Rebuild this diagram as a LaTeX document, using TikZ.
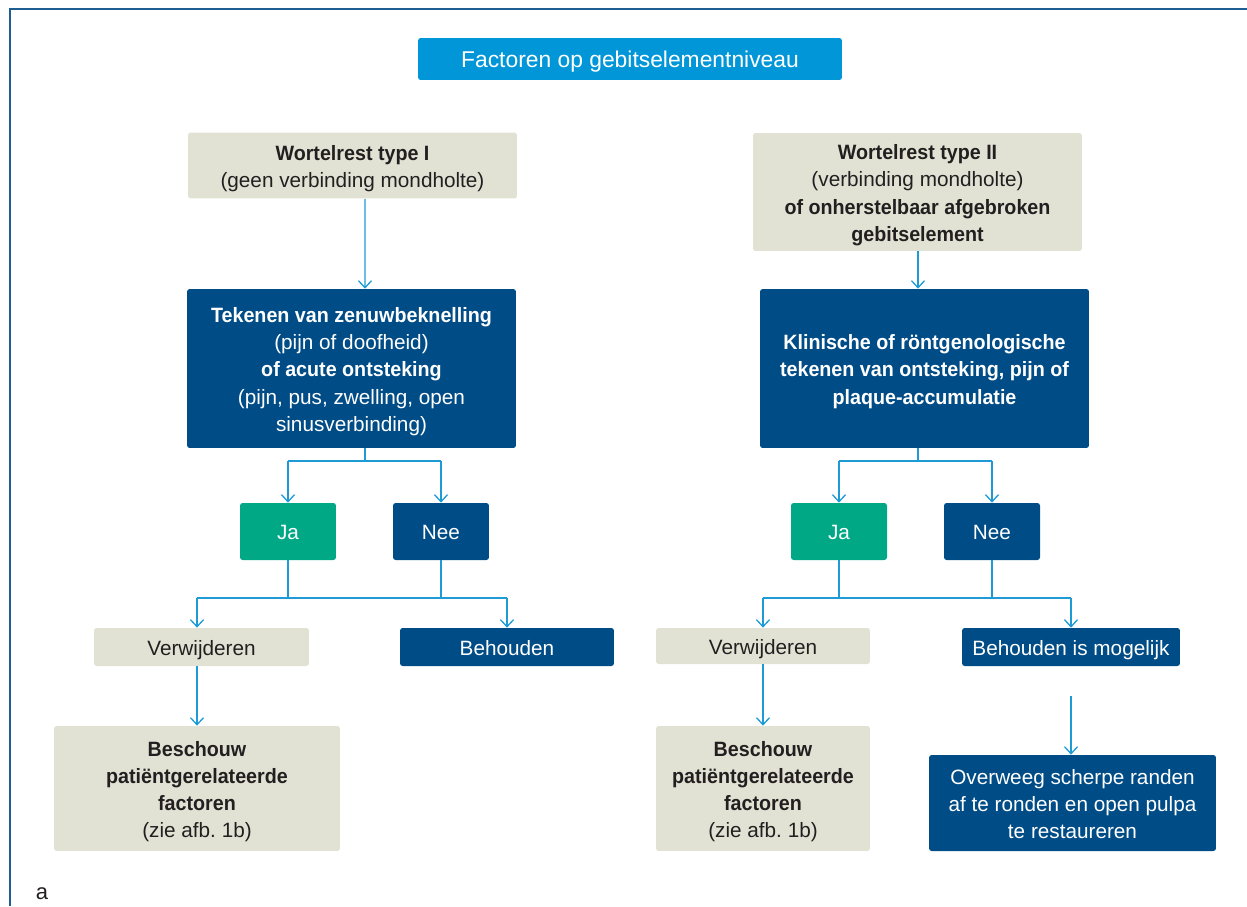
\documentclass[tikz,border=0pt]{standalone}
\usepackage{fontspec}
\setmainfont{Liberation Sans}[BoldFeatures={FakeStretch=0.95}]
\frenchspacing
\usetikzlibrary{arrows.meta}
\definecolor{headblue}{HTML}{0096D8}
\definecolor{darkblue}{HTML}{004C86}
\definecolor{okgreen}{HTML}{00A886}
\definecolor{sand}{HTML}{E2E2D4}
\definecolor{linkblue}{HTML}{1E9BD7}
\definecolor{framec}{HTML}{1F5E93}
\definecolor{ink}{HTML}{231F20}

\begin{document}
\begin{tikzpicture}[x=0.02cm,y=-0.02cm,
  box/.style={rounded corners=1.5pt,inner sep=0pt,align=flush center,
    font=\fontsize{11.8}{15.5}\selectfont,
    execute at begin node={\rule{0pt}{12.6pt}},
    execute at end node={\rule[-3pt]{0pt}{3pt}}},
  sz/.style n args={3}{minimum width=#1,text width=#1,minimum height=#2,#3},
  sandbox/.style={box,fill=sand,text=ink},
  bluebox/.style={box,fill=darkblue,text=white},
  greenbox/.style={box,fill=okgreen,text=white},
  wire/.style={draw=linkblue,line width=0.75pt},
  link/.style={wire,-{Straight Barb[length=1.4mm,width=2.6mm]}}]
\useasboundingbox (0,0) rectangle (1247,906);
% frame, only top and left edge visible
\draw[framec,line width=0.85pt] (1247,9) -- (10,9) -- (10,906);

% header
\node[box,fill=headblue,text=white,sz={8.48cm}{0.84cm}{},
  font=\fontsize{13}{15.6}\selectfont] (head) at (630,59) {Factoren op gebitselementniveau};

% left column
\node[sandbox,sz={6.58cm}{1.32cm}{}] (wr1) at (352.5,165.5)
  {\textbf{Wortelrest type I}\\(geen verbinding mondholte)};
\node[bluebox,sz={6.58cm}{3.18cm}{}] (tek1) at (351.5,368.5)
  {\textbf{Tekenen van zenuwbeknelling}\\(pijn of doofheid)\\\textbf{of acute ontsteking}\\
   (pijn, pus, zwelling, open\\sinusverbinding)};
\node[greenbox,sz={1.92cm}{1.14cm}{}] (ja1) at (288,531.5) {Ja};
\node[bluebox,sz={1.92cm}{1.14cm}{}] (nee1) at (441,531.5) {Nee};
\node[sandbox,sz={4.3cm}{0.76cm}{}] (verw1) at (201.5,647) {Verwijderen};
\node[bluebox,sz={4.28cm}{0.76cm}{}] (beh1) at (507,647) {Behouden};
\node[sandbox,sz={5.72cm}{2.5cm}{}] (besch1) at (197,788.5)
  {\textbf{Beschouw}\\\textbf{patiëntgerelateerde}\\\textbf{factoren}\\(zie afb. 1b)};

% right column
\node[sandbox,sz={6.58cm}{2.36cm}{}] (wr2) at (917.5,192)
  {\textbf{Wortelrest type II}\\(verbinding mondholte)\\\textbf{of onherstelbaar afgebroken}\\\textbf{gebitselement}};
\node[bluebox,sz={6.58cm}{3.18cm}{}] (tek2) at (924.5,368.5)
  {\textbf{Klinische of röntgenologische}\\\textbf{tekenen van ontsteking, pijn of}\\\textbf{plaque-accumulatie}};
\node[greenbox,sz={1.92cm}{1.14cm}{}] (ja2) at (839,531.5) {Ja};
\node[bluebox,sz={1.92cm}{1.14cm}{}] (nee2) at (992,531.5) {Nee};
\node[sandbox,sz={4.28cm}{0.72cm}{}] (verw2) at (763,646) {Verwijderen};
\node[bluebox,sz={4.36cm}{0.76cm}{}] (beh2) at (1071,647) {Behouden is mogelijk};
\node[sandbox,sz={4.28cm}{2.5cm}{}] (besch2) at (763,788.5)
  {\textbf{Beschouw}\\\textbf{patiëntgerelateerde}\\\textbf{factoren}\\(zie afb. 1b)};
\node[bluebox,sz={5.74cm}{1.92cm}{}] (overw) at (1072.5,803)
  {Overweeg scherpe randen\\af te ronden en open pulpa\\te restaureren};

\node[text=ink,font=\fontsize{12.5}{15}\selectfont] (lbl) at (42,894) {a};

% connectors
\coordinate (sp) at (0,461);
\coordinate (jn) at (0,598);
\draw[link] ([xshift=0.25cm]wr1.south) -- ([xshift=0.27cm]tek1.north);
\draw[link] ([xshift=0.01cm]wr2.south) -- ([xshift=0.01cm]wr2.south |- tek2.north);
\draw[wire] ([xshift=0.27cm]tek1.south) -- ([xshift=0.27cm]tek1.south |- sp);
\draw[link] (ja1 |- sp) -- (ja1);
\draw[link] (nee1 |- sp) -- (nee1);
\draw[wire] (ja1 |- sp) -- (nee1 |- sp);
\draw[wire] ([xshift=0.01cm]tek2.south -| wr2.south) -- ([xshift=0.01cm]wr2.south |- sp);
\draw[link] (ja2 |- sp) -- (ja2);
\draw[link] (nee2 |- sp) -- (nee2);
\draw[wire] (ja2 |- sp) -- (nee2 |- sp);

\draw[wire] (ja1.south) -- (ja1.south |- jn);
\draw[wire] (nee1.south) -- (nee1.south |- jn);
\draw[wire] (besch1 |- jn) -- (beh1 |- jn);
\draw[link] (besch1 |- jn) -- (besch1 |- verw1.north);
\draw[link] (beh1 |- jn) -- (beh1);
\draw[link] (besch1 |- verw1.south) -- (besch1);

\draw[wire] (ja2.south) -- (ja2.south |- jn);
\draw[wire] (nee2.south) -- (nee2.south |- jn);
\draw[wire] (verw2 |- jn) -- (beh2 |- jn);
\draw[link] (verw2 |- jn) -- (verw2);
\draw[link] (beh2 |- jn) -- (beh2);
\draw[link] (verw2) -- (besch2);
\draw[link] ([yshift=-0.6cm]beh2.south) -- (beh2.south |- overw.north);
\end{tikzpicture}
\end{document}
